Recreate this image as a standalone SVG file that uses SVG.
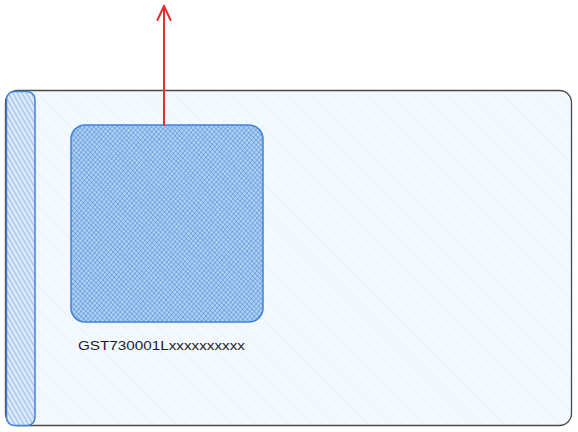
<svg xmlns="http://www.w3.org/2000/svg" width="578" height="432" viewBox="0 0 578 432">
<defs>
<pattern id="faint" patternUnits="userSpaceOnUse" width="8" height="8" patternTransform="rotate(-45)">
<rect width="8" height="8" fill="#f4f9fe"/>
<line x1="0" y1="0" x2="0" y2="8" stroke="#e0edfa" stroke-width="1"/>
</pattern>
<pattern id="strip" patternUnits="userSpaceOnUse" width="4" height="4" patternTransform="rotate(-30)">
<rect width="4" height="4" fill="#dbe8f8"/>
<line x1="0" y1="0" x2="0" y2="4" stroke="#6ea6e4" stroke-width="1.3"/>
</pattern>
<pattern id="cross1" patternUnits="userSpaceOnUse" width="3.4" height="3.4" patternTransform="rotate(40)">
<line x1="0" y1="0" x2="0" y2="3.4" stroke="#4a8ad8" stroke-width="1"/>
</pattern>
<pattern id="cross2" patternUnits="userSpaceOnUse" width="3.4" height="3.4" patternTransform="rotate(-45)">
<line x1="0" y1="0" x2="0" y2="3.4" stroke="#4a8ad8" stroke-width="1"/>
</pattern>
</defs>
<style>
.lbl{font-family:"Liberation Sans",Arial,sans-serif;font-size:13px;fill:#1e1e1e;}
.blue{stroke:#3f82d8;stroke-width:1.5;}
</style>
<g id="card">
<rect x="5.5" y="90.5" width="566" height="335" rx="12" fill="url(#faint)" stroke="#4a4a4a" stroke-width="1.3"/>
</g>
<g id="strip-node">
<rect class="blue" x="6.5" y="91.5" width="28.5" height="334" rx="8" fill="url(#strip)"/>
</g>
<g id="chip">
<rect x="71" y="125" width="192" height="197" rx="14" fill="#b2d0f2"/>
<rect x="71" y="125" width="192" height="197" rx="14" fill="url(#cross1)"/>
<rect class="blue" x="71" y="125" width="192" height="197" rx="14" fill="url(#cross2)"/>
</g>
<g id="label">
<text class="lbl" x="78" y="350" textLength="167" lengthAdjust="spacingAndGlyphs">GST730001Lxxxxxxxxxx</text>
</g>
<g id="connectors">
<line x1="164" y1="125" x2="164" y2="6" stroke="#e03131" stroke-width="2" stroke-linecap="round"/>
<polyline points="157.5,20 164,6 170.5,20" fill="none" stroke="#e03131" stroke-width="2" stroke-linecap="round" stroke-linejoin="round"/>
</g>
</svg>
